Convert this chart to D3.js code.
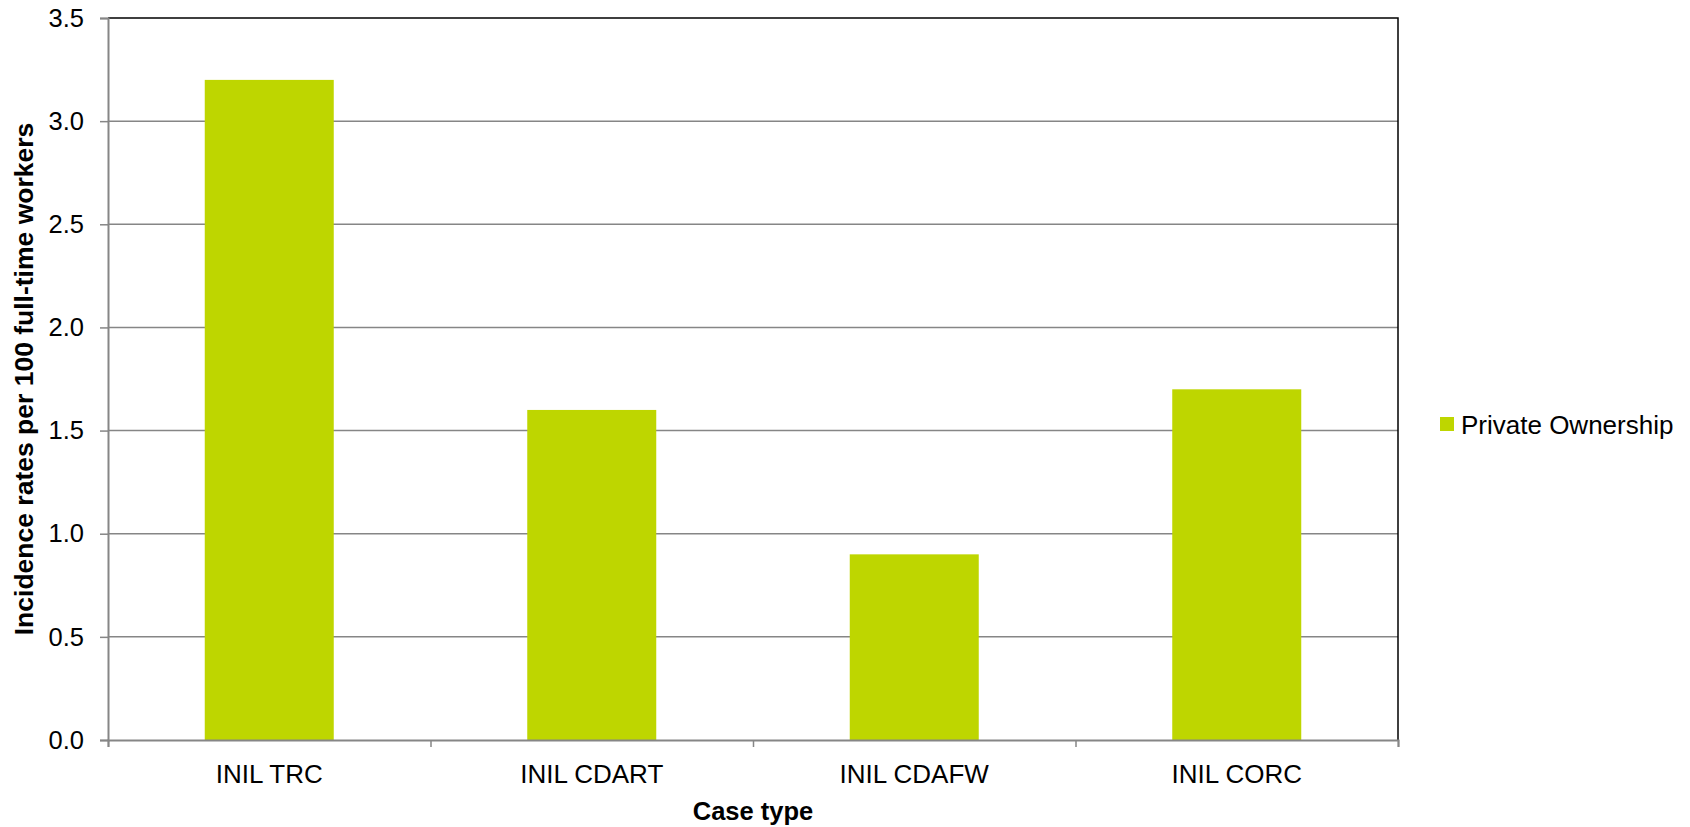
<!DOCTYPE html>
<html>
<head>
<meta charset="utf-8">
<script src="https://cdn.jsdelivr.net/npm/d3@7"></script>
<style>
  body { margin: 0; background: #fff; }
  text { font-family: "Liberation Sans", Arial, sans-serif; fill: #000; }
</style>
</head>
<body>
<div id="chart"></div>
<script>
var categories = ["INIL TRC", "INIL CDART", "INIL CDAFW", "INIL CORC"];
var values = [3.2, 1.6, 0.9, 1.7];
var yTicks = [0, 0.5, 1.0, 1.5, 2.0, 2.5, 3.0, 3.5];
var seriesName = "Private Ownership";

var margin = {top: 18, right: 292, bottom: 87, left: 108},
  width = 1690 - margin.left - margin.right,
  height = 827 - margin.top - margin.bottom;

var svg = d3.select("#chart").append("svg")
  .attr("width", 1690)
  .attr("height", 827)
.append("g")
  .attr("transform", "translate(" + margin.left + "," + margin.top + ")");

var x = d3.scaleBand()
  .domain(categories)
  .range([0, width])
  .paddingInner(0.6)
  .paddingOuter(0.3);

var y = d3.scaleLinear()
  .domain([0, 3.5])
  .range([height, 0]);

// gridlines
svg.selectAll(".grid")
  .data(yTicks.slice(1, -1))
  .enter().append("line")
  .attr("class", "grid")
  .attr("x1", 0).attr("x2", width)
  .attr("y1", d => y(d)).attr("y2", d => y(d))
  .attr("stroke", "#868686")
  .attr("stroke-width", 1.5);

// top + right border
svg.append("path")
  .attr("d", "M0," + y(3.5) + "H" + width + "V" + height)
  .attr("fill", "none")
  .attr("stroke", "#000")
  .attr("stroke-width", 1.5);

// bars
svg.selectAll(".bar")
  .data(values)
  .enter().append("rect")
  .attr("class", "bar")
  .attr("x", (d, i) => x(categories[i]))
  .attr("width", x.bandwidth())
  .attr("y", d => y(d))
  .attr("height", d => height - y(d))
  .attr("fill", "#bed600");

// y axis
var yAxis = svg.append("g")
  .call(d3.axisLeft(y).tickValues(yTicks).tickFormat(d3.format(".1f")).tickSize(8).tickPadding(16));
yAxis.select(".domain").attr("stroke", "#868686").attr("stroke-width", 2);
yAxis.selectAll(".tick line").attr("stroke", "#868686").attr("stroke-width", 1.5);
yAxis.selectAll("text").attr("font-size", "25.5px").attr("font-family", "Liberation Sans, Arial, sans-serif");

// x axis: ticks on category boundaries
var xb = d3.scaleLinear().domain([0, categories.length]).range([0, width]);
var xAxis = svg.append("g")
  .attr("transform", "translate(0," + height + ")")
  .call(d3.axisBottom(xb).ticks(categories.length).tickFormat("").tickSize(7).tickSizeOuter(7));
xAxis.select(".domain").attr("stroke", "#868686").attr("stroke-width", 2);
xAxis.selectAll(".tick line").attr("stroke", "#868686").attr("stroke-width", 1.5);

svg.selectAll(".cat")
  .data(categories)
  .enter().append("text")
  .attr("class", "cat")
  .attr("x", d => x(d) + x.bandwidth() / 2)
  .attr("y", height + 43)
  .attr("text-anchor", "middle")
  .attr("font-size", "26px")
  .text(d => d);

// axis titles
svg.append("text")
  .attr("x", width / 2)
  .attr("y", height + 80)
  .attr("text-anchor", "middle")
  .attr("font-size", "25.5px")
  .attr("font-weight", "bold")
  .text("Case type");

svg.append("text")
  .attr("transform", "translate(" + (33 - margin.left) + "," + (height / 2) + ") rotate(-90)")
  .attr("text-anchor", "middle")
  .attr("font-size", "26.5px")
  .attr("font-weight", "bold")
  .text("Incidence rates per 100 full-time workers");

// legend
var legend = svg.append("g")
  .attr("transform", "translate(" + (1440 - margin.left) + "," + (417 - margin.top) + ")");
legend.append("rect")
  .attr("width", 14).attr("height", 14)
  .attr("fill", "#bed600");
legend.append("text")
  .attr("x", 21)
  .attr("y", 17)
  .attr("font-size", "26px")
  .text(seriesName);
</script>
</body>
</html>
